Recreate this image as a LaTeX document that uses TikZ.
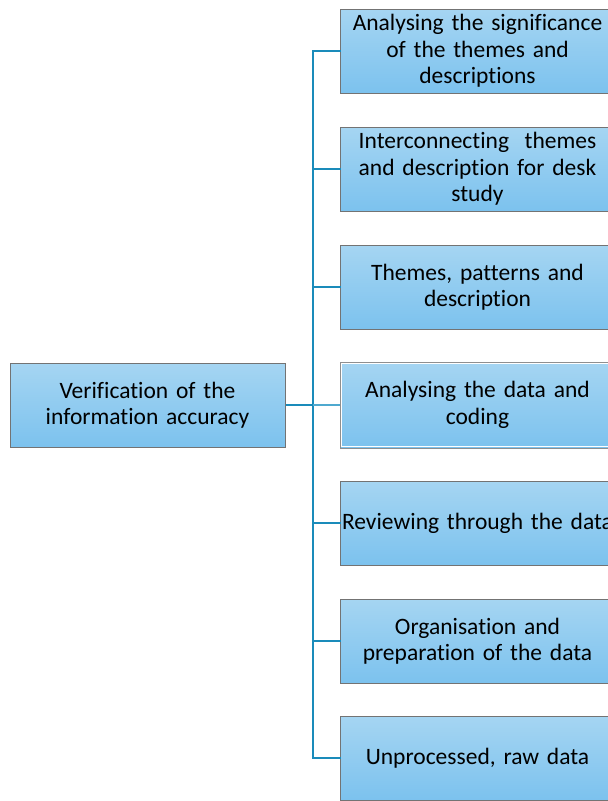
\documentclass[tikz,border=0pt]{standalone}
\usepackage{fontspec}
\setmainfont{Carlito}[Ligatures=NoCommon]
\usepackage{tikz}
\usetikzlibrary{positioning, calc}

\definecolor{boxtop}{HTML}{A5D5F2}
\definecolor{boxbot}{HTML}{7CC2EE}
\definecolor{boxline}{HTML}{737373}
\definecolor{linkblue}{HTML}{1A8BBA}
\definecolor{stubblue}{HTML}{4FA9CF}

\tikzset{
  stage/.style={draw=boxline, line width=1pt, top color=boxtop, bottom color=boxbot,
    minimum width=275pt, minimum height=84pt, text width=265pt, align=center,
    inner sep=0pt, font=\fontsize{23.5}{26.5}\selectfont},
  link/.style={draw=linkblue, line width=2.4pt},
  spinelink/.style={draw=linkblue, line width=2pt, line cap=rect},
  stub/.style={draw=stubblue, line width=1.6pt}
}

\begin{document}
\begin{tikzpicture}[x=1pt, y=-1pt]
      % 画面の範囲
      \useasboundingbox (0,0) rectangle (608,801);
      \clip (0,0) rectangle (608,801);
      \fill[white] (0,0) rectangle (608,801);

      % 左の箱
      \node[stage] (main) at (147.5,405) {Verification of the\\information accuracy};

      % 右の箱
      \node[stage] (r1) at (477.5,51) {Analysing the significance\\of the themes and\\descriptions};
      \node[stage] (r2) at (477.5,169) {Interconnecting\ \ themes\\and description for desk\\study};
      \node[stage] (r3) at (477.5,287) {Themes, patterns and\\description};
      \node[stage, minimum height=86pt, draw=boxline!80] (r4) at (477.5,405) {Analysing the data and\\coding};
      \node[stage] (r5) at (477.5,523) {\makebox[\linewidth][c]{Reviewing through the data}};
      \node[stage] (r6) at (477.5,641) {Organisation and\\preparation of the data};
      \node[stage] (r7) at (477.5,758) {Unprocessed, raw data};

      % 箱4の内側の白線
      \draw[white, line width=1pt] ($(r4.south west)+(2,-2)$) rectangle ($(r4.north east)+(-2,2)$);

      % 縦の線
      \coordinate (spine) at (313,405);
      \draw[spinelink] (spine|-r1.west) -- (spine|-r7.west);
      \draw[link] (main.east) -- (spine);

      % 横の線
      \foreach \i in {1,2,3,5,6,7}
        \draw[spinelink] (spine|-r\i.west) -- (r\i.west);
      \draw[stub] (spine) -- (r4.west);
  \end{tikzpicture}
\end{document}
